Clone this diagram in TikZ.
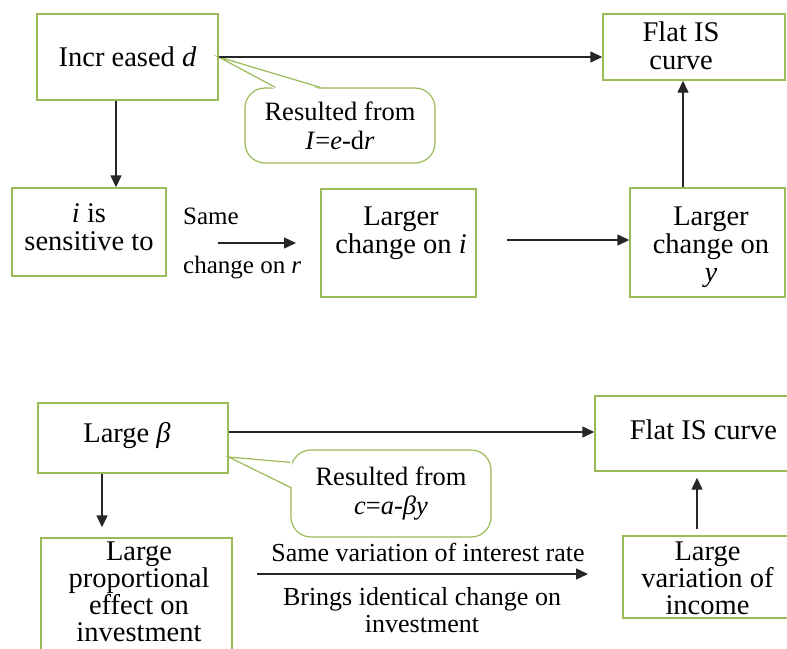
\documentclass[tikz,border=0pt]{standalone}
\usepackage{fontspec}
\setmainfont{Liberation Serif}
\usetikzlibrary{arrows.meta,calc}
\definecolor{boxgreen}{RGB}{155,187,89}
\begin{document}
\begin{tikzpicture}[x=1pt,y=-1pt,
  box/.style={draw=boxgreen, line width=1.4pt, fill=white, inner sep=0pt, align=center, font=\fontsize{28.5}{29.5}\selectfont},
  txt/.style={inner sep=0pt, align=center, font=\fontsize{28.5}{28}\selectfont},
  txtb/.style={inner sep=0pt, align=center, font=\fontsize{28.5}{27}\selectfont},
  lbl/.style={inner sep=0pt, align=center, font=\fontsize{25}{27}\selectfont},
  lblb/.style={inner sep=0pt, align=center, font=\fontsize{26}{27}\selectfont},
  callout/.style={draw=boxgreen, line width=1.2pt, fill=white, rounded corners=20pt, inner sep=0pt, align=center, font=\fontsize{26.5}{29}\selectfont},
  tail/.style={draw=boxgreen, line width=1.2pt},
  arr/.style={draw=black!85, line width=1.4pt, -{Triangle[length=12pt,width=11pt]}}
]
\useasboundingbox (0,0) rectangle (787,648);
% ---------- top part ----------
\node[box, minimum width=181, minimum height=86] (A) at (127.5,57) {Incr eased \textit{d}};
\node[box, minimum width=182, minimum height=66] (F1) at (694,47) {};
\node[txt] (tF1) at (681,46) {Flat IS\\curve};
\node[box, minimum width=154, minimum height=88] (S) at (89,232) {};
\node[txt] (tS) at (89,227) {\textit{i} is\\sensitive to};
\node[box, minimum width=155, minimum height=108] (Li) at (398.5,243) {};
\node[txt] (tLi) at (401,233) {Larger\\change on \textit{i}};
\node[box, minimum width=155, minimum height=109] (Ly) at (707.5,242.5) {};
\node[txt] (tLy) at (711,247) {Larger\\change on\\\textit{y}};
% callout 1
\node[callout, minimum width=190, minimum height=75] (C1) at (340,125.5) {Resulted from\\\textit{I}=\textit{e}-d\textit{r}};
\coordinate (C1a) at ($(C1.north west)+(31,0)$);
\coordinate (C1b) at ($(C1.north west)+(76,0)$);
\fill[white] ($(C1a)+(0,2)$) -- (A.east) -- ($(C1b)+(0,2)$) -- cycle;
\draw[tail] (C1a) -- (A.east) -- (C1b);
% arrows
\draw[arr] (A.east) -- (A.east -| F1.west);
\coordinate (Adown) at ($(A.south)+(-11.5,0)$);
\draw[arr] (Adown) -- (Adown |- S.north);
\coordinate (r1) at (218,243);
\coordinate (r2) at (296,243);
\draw[arr] (r1) -- (r2);
\node[lbl, anchor=west] (same) at (183,216) {Same};
\node[lbl, anchor=west] (chr) at (183,268) {change on \textit{r}};
\coordinate (i1) at (507,240);
\draw[arr] (i1) -- (i1 -| Ly.west);
\coordinate (Lyup) at ($(Ly.north)+(-24.5,0)$);
\draw[arr] (Lyup) -- (Lyup |- F1.south);
% ---------- bottom part ----------
\node[box, minimum width=190, minimum height=70] (B) at (133,438) {};
\node[txt] (tB) at (127,436) {Large \textit{β}};
\node[box, minimum width=202, minimum height=75] (F2) at (696,433.5) {};
\node[txt] (tF2) at (703.5,430) {Flat IS curve};
\node[callout, minimum width=200, minimum height=87] (C2) at (391,493.5) {Resulted from\\\textit{c}=\textit{a}-\textit{βy}};
\coordinate (C2a) at ($(C2.north west)+(0,13)$);
\coordinate (C2b) at ($(C2.north west)+(0,38)$);
\coordinate (Btip) at ($(B.east)+(0,19)$);
\fill[white] ($(C2a)+(2,0)$) -- (Btip) -- ($(C2b)+(2,0)$) -- cycle;
\draw[tail] (C2a) -- (Btip) -- (C2b);
\node[box, minimum width=191, minimum height=134] (P) at (136.5,605) {};
\node[txtb] (tP) at (139,592) {Large\\proportional\\effect on\\investment};
\node[box, minimum width=168, minimum height=82] (Inc) at (707,577) {};
\node[txtb] (tInc) at (707.5,578) {Large\\variation of\\income};
\coordinate (Bb) at ($(B.east)+(0,-6)$);
\draw[arr] (Bb) -- (Bb -| F2.west);
\coordinate (Bdown) at ($(B.south)+(-31,0)$);
\coordinate (Bdown2) at ($(Bdown |- P.north)+(0,-10)$);
\draw[arr] (Bdown) -- (Bdown2);
\coordinate (m1) at (257,574);
\coordinate (m2) at (588,574);
\draw[arr] (m1) -- (m2);
\node[lblb] (sv) at (428,552) {Same variation of interest rate};
\node[lblb] (bi) at (422,610) {Brings identical change on\\investment};
\coordinate (u1) at (697,529);
\draw[arr, shorten >=6pt] (u1) -- (u1 |- F2.south);
\end{tikzpicture}
\end{document}
